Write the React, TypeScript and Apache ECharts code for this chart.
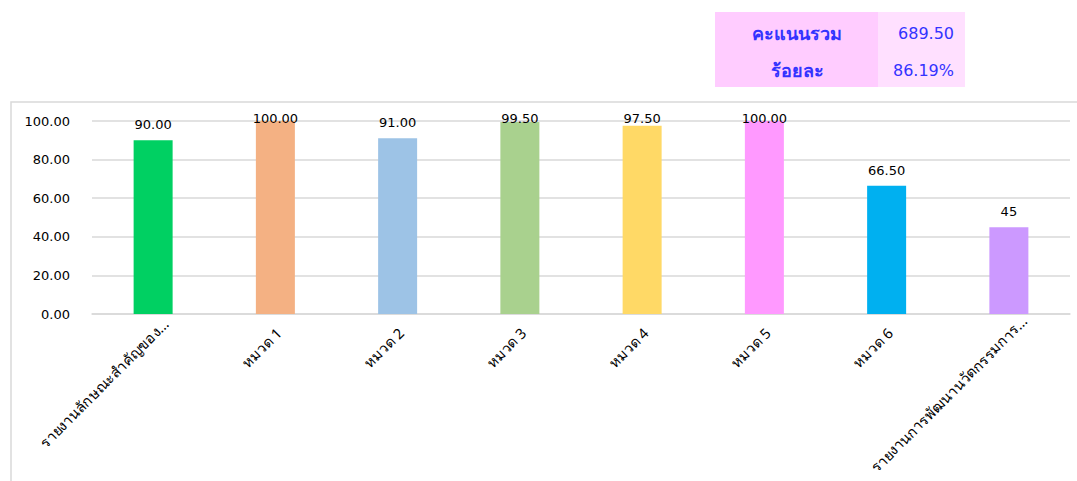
import React, { useEffect, useRef } from "react";
import * as echarts from "echarts";

const categories = [
  "รายงานลักษณะสำคัญของ...",
  "หมวด 1",
  "หมวด 2",
  "หมวด 3",
  "หมวด 4",
  "หมวด 5",
  "หมวด 6",
  "รายงานการพัฒนานวัตกรรมการ...",
];
const values = [90, 100, 91, 99.5, 97.5, 100, 66.5, 45];
const valueLabels = ["90.00", "100.00", "91.00", "99.50", "97.50", "100.00", "66.50", "45"];
const barColors = ["#00d062", "#f4b183", "#9dc3e6", "#a9d18e", "#ffd966", "#ff99ff", "#00b0f0", "#cc99ff"];
const yTicks = [0, 20, 40, 60, 80, 100];
const summaryLabels = ["คะแนนรวม", "ร้อยละ"];
const summaryValues = ["689.50", "86.19%"];

export default function App() {
  const ref = useRef<HTMLDivElement>(null);
  useEffect(() => {
    if (!ref.current) return;
    const chart = echarts.init(ref.current, undefined, { renderer: "svg" });
    const font = "DejaVu Sans";
    const labelGap = 9;
    const labelMinY = 112; // labels cannot rise above this line (Excel clamps them)
    // long rotated labels are pushed further along their direction, like Excel does
    const alongShift = (t: string) => (t.length > 12 ? Math.round(t.length * 0.8) : 5);
    const buildSeries = (offsets: number[]) => [
      {
        type: "bar",
        barWidth: 39,
        data: values.map((v, i) => ({
          value: v,
          itemStyle: { color: barColors[i] },
          label: { offset: [0, offsets[i] || 0] },
        })),
        label: {
          show: true,
          position: "top",
          distance: labelGap,
          fontSize: 13,
          color: "#000",
          fontFamily: font,
          formatter: (p: any) => valueLabels[p.dataIndex],
        },
      },
    ];
    chart.setOption({
      animation: false,
      textStyle: { fontFamily: font },
      grid: { left: 92, right: 7, top: 121, bottom: 167, containLabel: false, outerBoundsMode: "none" },
      xAxis: {
        type: "category",
        data: categories.map((c) => ({
          value: c,
          textStyle: { padding: [0, -alongShift(c), 0, 0] },
        })),
        axisLine: { show: true, lineStyle: { color: "#d9d9d9", width: 1.5 } },
        axisTick: { show: false },
        axisLabel: {
          interval: 0,
          rotate: 45,
          fontSize: 14.5,
          color: "#000",
          fontFamily: "Noto Sans",
          margin: 20,
        },
      },
      yAxis: {
        type: "value",
        min: yTicks[0],
        max: yTicks[yTicks.length - 1],
        interval: 20,
        axisLine: { show: false },
        axisTick: { show: false },
        splitLine: { lineStyle: { color: "#d9d9d9", width: 1.5 } },
        axisLabel: {
          formatter: (v: number) => v.toFixed(2),
          fontSize: 13,
          color: "#000",
          fontFamily: font,
          margin: 22,
        },
      },
      series: buildSeries([]),
      graphic: [
        {
          type: "rect",
          shape: { x: 11, y: 102, width: 1080, height: 400 },
          style: { fill: "none", stroke: "#d9d9d9", lineWidth: 1.5 },
          silent: true,
          z: -10,
        },
        {
          type: "rect",
          shape: { x: 715, y: 12, width: 163, height: 75 },
          style: { fill: "#ffccff" },
        },
        {
          type: "rect",
          shape: { x: 878, y: 12, width: 87, height: 75 },
          style: { fill: "#ffe0ff" },
        },
        ...summaryLabels.map((t, i) => ({
          type: "text",
          x: 797,
          y: 33 + i * 37,
          style: {
            text: t,
            fill: "#3333ff",
            font: `bold 18px ${font}`,
            textAlign: "center",
            textVerticalAlign: "middle",
          },
        })),
        ...summaryValues.map((t, i) => ({
          type: "text",
          x: 954,
          y: 33 + i * 37,
          style: {
            text: t,
            fill: "#3333ff",
            font: `16px ${font}`,
            textAlign: "right",
            textVerticalAlign: "middle",
          },
        })),
      ],
    });
    const offsets = values.map((v) => {
      const top = chart.convertToPixel({ gridIndex: 0 }, [0, v])[1];
      const labelTop = top - labelGap - 13;
      return labelTop < labelMinY ? labelMinY - labelTop : 0;
    });
    chart.setOption({ series: buildSeries(offsets) });
    return () => chart.dispose();
  }, []);
  return (
    <div
      ref={ref}
      style={{ position: "absolute", left: 0, top: 0, width: 1077, height: 481, background: "#fff" }}
    />
  );
}
